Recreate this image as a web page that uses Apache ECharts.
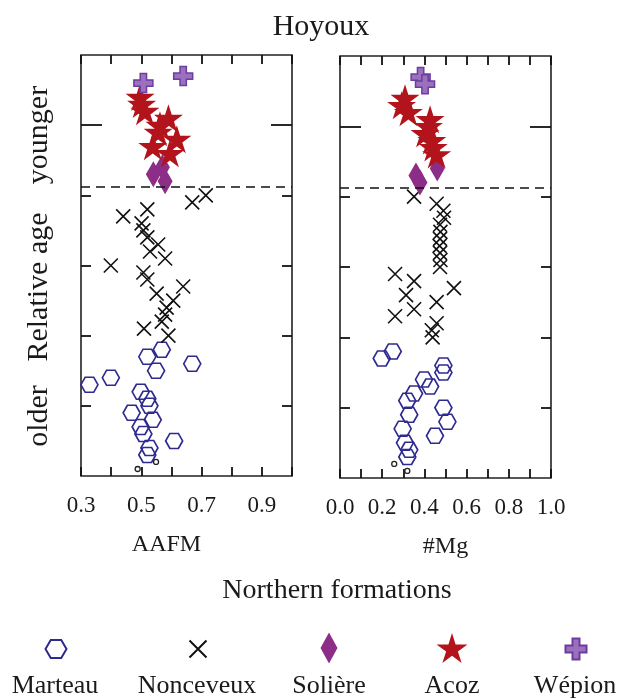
<!DOCTYPE html>
<html>
<head>
<meta charset="utf-8">
<title>Hoyoux</title>
<script src="https://cdn.jsdelivr.net/npm/echarts@6/dist/echarts.min.js"></script>
<style>
  html, body { margin: 0; padding: 0; background: #fff; }
  #main { width: 617px; height: 699px; }
</style>
</head>
<body>
<div id="main"></div>
<script>
// relative age rank of each sample, shared by both panels
const marteauAge = [1.8, 1.7, 1.6, 1.5, 1.4, 1.3, 1.2, 1.1, 1.0, 0.9, 0.8, 0.7, 0.6, 0.5, 0.4, 0.3]
const marteauAAFM = [0.568, 0.520, 0.669, 0.549, 0.399, 0.328, 0.498, 0.520, 0.527, 0.468, 0.538, 0.498, 0.507, 0.609, 0.527, 0.520]
const marteauMg = [0.250, 0.198, 0.490, 0.490, 0.398, 0.427, 0.351, 0.319, 0.490, 0.328, 0.509, 0.297, 0.450, 0.308, 0.328, 0.319]

const smallAge = [0.2, 0.1]
const smallAAFM = [0.549, 0.488]
const smallMg = [0.257, 0.319]

const nonceveuxAge = [4.0, 3.9, 3.8, 3.7, 3.6, 3.5, 3.4, 3.3, 3.2, 3.1, 3.0, 2.9, 2.8, 2.7, 2.6, 2.5, 2.4, 2.3, 2.2, 2.1, 2.0]
const nonceveuxAAFM = [0.714, 0.669, 0.520, 0.440, 0.501, 0.507, 0.520, 0.556, 0.529, 0.579, 0.399, 0.507, 0.520, 0.639, 0.551, 0.606, 0.584, 0.579, 0.568, 0.509, 0.590]
const nonceveuxMg = [0.351, 0.458, 0.490, 0.493, 0.474, 0.476, 0.474, 0.472, 0.474, 0.476, 0.474, 0.261, 0.351, 0.540, 0.313, 0.458, 0.351, 0.261, 0.458, 0.435, 0.439]

const soliereAge = [4.4, 4.3, 4.2]
const soliereAAFM = [0.570, 0.540, 0.579]
const soliereMg = [0.461, 0.360, 0.379]

const acozAge = [5.4, 5.3, 5.2, 5.1, 5.0, 4.9, 4.8, 4.7, 4.6]
const acozAAFM = [0.496, 0.501, 0.512, 0.590, 0.562, 0.556, 0.618, 0.538, 0.595]
const acozMg = [0.308, 0.292, 0.324, 0.427, 0.419, 0.403, 0.435, 0.442, 0.458]

const wepionAge = [5.7, 5.6]
const wepionAAFM = [0.639, 0.507]
const wepionMg = [0.382, 0.403]

const boundaryAge = 4.12
const aafmTickLabels = ['0.3', '0.5', '0.7', '0.9']
const mgTickLabels = ['0.0', '0.2', '0.4', '0.6', '0.8', '1.0']
const ageTicks = [1, 2, 3, 4]
const ageLongTicks = [5]
const legendNames = ['Marteau', 'Nonceveux', 'Solière', 'Acoz', 'Wépion']

const serif = '"Liberation Serif", "DejaVu Serif", serif'
const ink = '#1a1a1a'

const hexPath = 'path://M-10,0L-5,-8.66L5,-8.66L10,0L5,8.66L-5,8.66Z'
const crossPath = 'path://M0,0L10,10M10,0L0,10'
const starPath = 'path://M0,-100L22,-31L95,-31L36,12L59,81L0,38L-59,81L-36,12L-95,-31L-22,-31Z'
const plusPath = 'path://M-3,-9L3,-9L3,-3L9,-3L9,3L3,3L3,9L-3,9L-3,3L-9,3L-9,-3L-3,-3Z'

const looks = {
  Marteau: { symbol: hexPath, symbolSize: [17, 15], itemStyle: { color: 'rgba(0,0,0,0)', borderColor: '#2e2a8e', borderWidth: 1.6, opacity: 1 } },
  Nonceveux: { symbol: crossPath, symbolSize: [14, 14], itemStyle: { color: 'rgba(0,0,0,0)', borderColor: '#111', borderWidth: 1.6, opacity: 1 } },
  'Solière': { symbol: 'diamond', symbolSize: [15, 26], itemStyle: { color: '#8c2d87', opacity: 1 } },
  Acoz: { symbol: starPath, symbolSize: [29, 28], itemStyle: { color: '#b3141c', opacity: 1 } },
  'Wépion': { symbol: plusPath, symbolSize: [19, 19], itemStyle: { color: '#9c6fbf', borderColor: '#6a3e9e', borderWidth: 1.5, opacity: 1 } },
  small: { symbol: 'circle', symbolSize: 5, itemStyle: { color: 'rgba(0,0,0,0)', borderColor: '#222', borderWidth: 1.3, opacity: 1 } }
}
const legendSizes = {
  Marteau: [21, 18],
  Nonceveux: [17, 17],
  'Solière': [17, 31],
  Acoz: [31, 30],
  'Wépion': [21, 21]
}

const pts = (xs, ys) => xs.map((x, i) => [x, ys[i]])

const groups = [
  ['Marteau', marteauAAFM, marteauMg, marteauAge],
  ['small', smallAAFM, smallMg, smallAge],
  ['Nonceveux', nonceveuxAAFM, nonceveuxMg, nonceveuxAge],
  ['Solière', soliereAAFM, soliereMg, soliereAge],
  ['Acoz', acozAAFM, acozMg, acozAge],
  ['Wépion', wepionAAFM, wepionMg, wepionAge]
]

const series = []
groups.forEach(([name, aafm, mg, age]) => {
  series.push(Object.assign({ name, type: 'scatter', xAxisIndex: 0, yAxisIndex: 0, data: pts(aafm, age) }, looks[name]))
  series.push(Object.assign({ name, type: 'scatter', xAxisIndex: 2, yAxisIndex: 4, data: pts(mg, age) }, looks[name]))
})
// dashed boundary line in both panels
;[0, 1].forEach(i => {
  series[i].markLine = {
    silent: true,
    symbol: ['none', 'none'],
    label: { show: false },
    lineStyle: { type: [9, 6], color: '#111', width: 1.6 },
    data: [{ yAxis: boundaryAge }]
  }
})

const tickLine = { color: '#111', width: 1.8 }

const xAxis = (gridIndex, min, labels, position) => ({
  type: 'value',
  gridIndex,
  position,
  min,
  max: 1,
  interval: 0.1,
  axisLine: { show: false, onZero: false },
  splitLine: { show: false },
  axisTick: { inside: true, length: 9, lineStyle: tickLine },
  axisLabel: {
    show: position === 'bottom',
    margin: 18,
    fontFamily: serif,
    fontSize: 23,
    color: ink,
    formatter: v => {
      const s = (Math.round(v * 10) / 10).toFixed(1)
      return labels.includes(s) ? s : ''
    }
  }
})

const yAxis = (gridIndex, position, ticks, length) => ({
  type: 'value',
  gridIndex,
  position,
  min: 0,
  max: 6,
  interval: 1,
  axisLine: { show: false, onZero: false },
  splitLine: { show: false },
  axisLabel: { show: false },
  axisTick: { inside: true, length, customValues: ticks, lineStyle: tickLine }
})

const legendX = [55, 197, 329, 452, 575]
const legends = legendNames.map((name, i) => {
  const size = legendSizes[name]
  return {
    data: [name],
    left: legendX[i] - size[0] / 2,
    top: 648 - size[1] / 2,
    padding: 0,
    itemWidth: size[0],
    itemHeight: size[1],
    symbolKeepAspect: false,
    selectedMode: false,
    formatter: () => ''
  }
})

const rotText = (text, y) => ({
  type: 'text',
  x: 39,
  y,
  rotation: Math.PI / 2,
  style: { text, font: '30px ' + serif, fill: ink, align: 'center', verticalAlign: 'middle' }
})

const graphic = [
  rotText('younger', 135),
  rotText('Relative age', 287),
  rotText('older', 416),
  {
    type: 'text', x: 337, y: 591,
    style: { text: 'Northern formations', font: '28px ' + serif, fill: ink, align: 'center', verticalAlign: 'middle' }
  }
].concat(legendNames.map((name, i) => ({
  type: 'text', x: legendX[i], y: 686,
  style: { text: name, font: '26px ' + serif, fill: ink, align: 'center', verticalAlign: 'middle' }
})))

const chart = echarts.init(document.getElementById('main'))
chart.setOption({
  animation: false,
  backgroundColor: '#fff',
  title: {
    text: 'Hoyoux',
    left: 316,
    top: 7,
    textAlign: 'center',
    textStyle: { fontFamily: serif, fontSize: 30, fontWeight: 'normal', color: ink }
  },
  grid: [
    { left: 81, right: 325, top: 55, bottom: 223, show: true, borderColor: '#222', borderWidth: 1.6 },
    { left: 340, right: 66, top: 56, bottom: 221, show: true, borderColor: '#222', borderWidth: 1.6 }
  ],
  xAxis: [
    Object.assign(xAxis(0, 0.3, aafmTickLabels, 'bottom'), {
      name: 'AAFM', nameLocation: 'middle', nameGap: 57,
      nameTextStyle: { fontFamily: serif, fontSize: 24, color: ink, padding: [0, 40, 0, 0] }
    }),
    xAxis(0, 0.3, aafmTickLabels, 'top'),
    Object.assign(xAxis(1, 0, mgTickLabels, 'bottom'), {
      name: '#Mg', nameLocation: 'middle', nameGap: 57,
      nameTextStyle: { fontFamily: serif, fontSize: 24, color: ink }
    }),
    xAxis(1, 0, mgTickLabels, 'top')
  ],
  yAxis: [
    yAxis(0, 'left', ageTicks, 10),
    yAxis(0, 'right', ageTicks, 10),
    yAxis(0, 'left', ageLongTicks, 21),
    yAxis(0, 'right', ageLongTicks, 21),
    yAxis(1, 'left', ageTicks, 10),
    yAxis(1, 'right', ageTicks, 10),
    yAxis(1, 'left', ageLongTicks, 21),
    yAxis(1, 'right', ageLongTicks, 21)
  ],
  legend: legends,
  graphic,
  series
})
</script>
</body>
</html>
